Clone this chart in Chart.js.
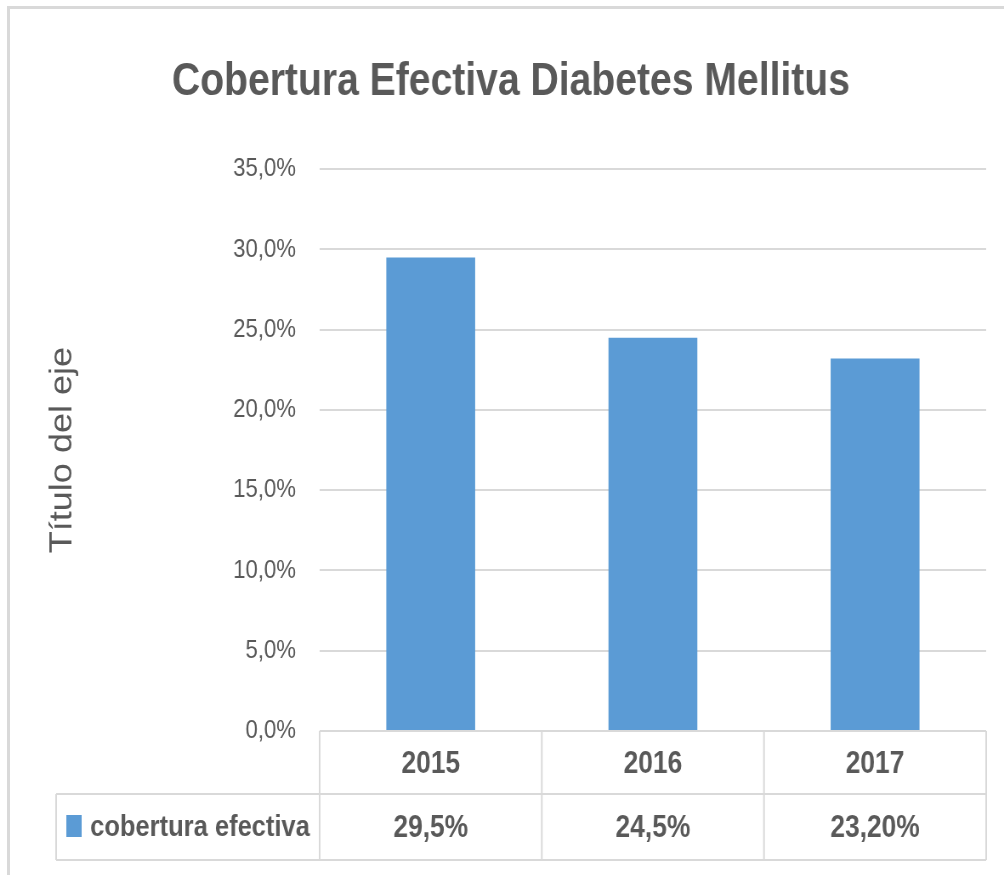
<!DOCTYPE html>
<html>
<head>
<meta charset="utf-8">
<script src="https://cdn.jsdelivr.net/npm/chart.js@4"></script>
<style>
  html, body { margin: 0; padding: 0; background: #fff; }
  #wrap { position: relative; width: 1004px; height: 875px; overflow: hidden; }
  #frame { position: absolute; left: 7px; top: 6px; width: 1010px; height: 880px;
           border-top: 3px solid #d9d9d9; border-left: 3px solid #d9d9d9; }
  /* the original picture is an Excel chart squeezed sideways: draw wider, show at 1004 */
  #c { position: absolute; left: 0; top: 0; }
</style>
</head>
<body>
<div id="wrap">
  <div id="frame"></div>
  <canvas id="c" width="1181" height="875" style="width:1004px;height:875px"></canvas>
</div>
<script>
// ---------- data ----------
const years = ["2015", "2016", "2017"];
const coverage = [29.5, 24.5, 23.2];
const tableLabels = ["29,5%", "24,5%", "23,20%"];
const seriesName = "cobertura efectiva";
const chartTitle = "Cobertura Efectiva Diabetes Mellitus";
const axisTitle = "Título del eje";
const yMin = 0, yMax = 35, yStep = 5;

const FONT = '"Liberation Sans", Arial, sans-serif';
const GREY = "#595959";
const LINE = "#d9d9d9";
const BLUE = "#5b9bd5";

const fmtPct = (v) => v.toFixed(1).replace(".", ",") + "%";

// ---------- data table under the plot ----------
const dataTable = {
  id: "dataTable",
  afterDraw(chart) {
    const { ctx, chartArea } = chart;
    const x = chart.scales.x;
    const top = chartArea.bottom;
    const mid = top + 63;
    const bot = top + 129;
    const left = chartArea.left, right = chartArea.right;
    const legendLeft = 66;
    const colW = (right - left) / years.length;

    ctx.save();
    ctx.strokeStyle = LINE;
    ctx.lineWidth = 2;
    ctx.beginPath();
    ctx.moveTo(left, top); ctx.lineTo(right, top);
    ctx.moveTo(legendLeft, mid); ctx.lineTo(right, mid);
    ctx.moveTo(legendLeft, bot); ctx.lineTo(right, bot);
    ctx.moveTo(legendLeft, mid); ctx.lineTo(legendLeft, bot);
    for (let i = 0; i <= years.length; i++) {
      const xx = left + i * colW;
      ctx.moveTo(xx, top); ctx.lineTo(xx, bot);
    }
    ctx.stroke();

    ctx.fillStyle = GREY;
    ctx.font = `bold 31px ${FONT}`;
    ctx.textAlign = "center";
    ctx.textBaseline = "middle";
    years.forEach((y, i) => {
      const cx = x.getPixelForValue(i);
      ctx.fillText(y, cx, (top + mid) / 2 + 2);
      ctx.fillText(tableLabels[i], cx, (mid + bot) / 2 + 1);
    });

    // legend key + series name
    ctx.fillStyle = BLUE;
    ctx.fillRect(78, mid + 21, 18, 22);
    ctx.fillStyle = GREY;
    ctx.textAlign = "left";
    ctx.font = `bold 30px ${FONT}`;
    ctx.fillText(seriesName, 106, (mid + bot) / 2 + 1);
    ctx.restore();
  }
};

new Chart(document.getElementById("c"), {
  type: "bar",
  data: {
    labels: years,
    datasets: [{
      label: seriesName,
      data: coverage,
      backgroundColor: BLUE,
      categoryPercentage: 1,
      barPercentage: 0.4
    }]
  },
  options: {
    responsive: false,
    animation: false,
    layout: { padding: { left: 42, right: 21, top: 0, bottom: 144 } },
    plugins: {
      legend: { display: false },
      tooltip: { enabled: false },
      title: {
        display: true,
        text: chartTitle,
        color: GREY,
        font: { family: FONT, size: 46, weight: "bold" },
        padding: { top: 55, bottom: 59 }
      }
    },
    scales: {
      x: { display: false },
      y: {
        min: yMin,
        max: yMax,
        afterFit: (s) => { s.width = 334; },
        ticks: {
          stepSize: yStep,
          padding: 28,
          color: GREY,
          font: { family: FONT, size: 26 },
          callback: (v) => fmtPct(v)
        },
        grid: { color: LINE, lineWidth: 2, drawTicks: false },
        border: { display: false },
        title: {
          display: true,
          text: axisTitle,
          color: GREY,
          font: { family: FONT, size: 36 },
          padding: { top: 10, bottom: 0 }
        }
      }
    }
  },
  plugins: [dataTable]
});
</script>
</body>
</html>
